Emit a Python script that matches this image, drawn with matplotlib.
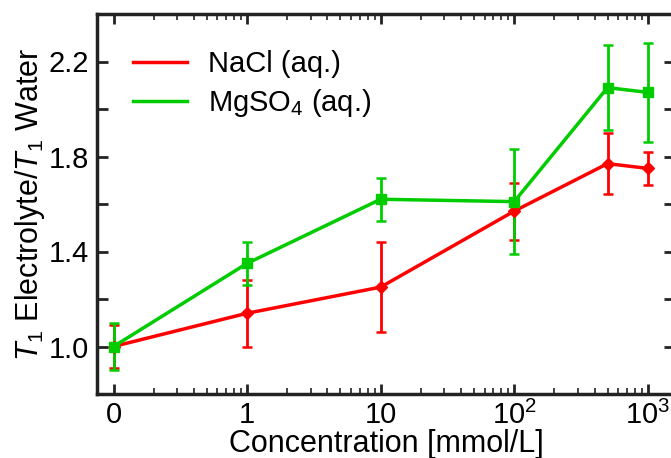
import numpy as np
import matplotlib
matplotlib.use("Agg")
import matplotlib.pyplot as plt
from matplotlib.ticker import FixedLocator, NullFormatter
from matplotlib.lines import Line2D

plt.rcParams["font.family"] = ["Liberation Sans", "DejaVu Sans"]
plt.rcParams["mathtext.fontset"] = "custom"
plt.rcParams["mathtext.rm"] = "Liberation Sans"
plt.rcParams["mathtext.it"] = "Liberation Sans:italic"

# concentrations in mmol/L (0 is drawn one decade below 1, as in the original log plot)
conc = np.array([0, 1, 10, 100, 500, 1000])
nacl = np.array([1.00, 1.14, 1.25, 1.57, 1.77, 1.75])
nacl_err = np.array([0.09, 0.14, 0.19, 0.12, 0.13, 0.07])
mgso4 = np.array([1.00, 1.35, 1.62, 1.61, 2.09, 2.07])
mgso4_err = np.array([0.10, 0.09, 0.09, 0.22, 0.18, 0.21])

tick_vals = [0.1, 1, 10, 100, 1000]
tick_labels = ["0", "1", "10", "10$^2$", "10$^3$"]

xpos = np.where(conc == 0, 0.1, conc)

fig = plt.figure(figsize=(6.71, 4.58), dpi=100)
ax = fig.add_axes([97 / 671, 64 / 458, 578 / 671, 380 / 458])

red = "#ff0000"
green = "#00cc00"
ax.errorbar(xpos, nacl, yerr=nacl_err, color=red, lw=2.5, marker="D", ms=6,
            capsize=3.5, elinewidth=2, capthick=1.8)
ax.errorbar(xpos, mgso4, yerr=mgso4_err, color=green, lw=2.5, marker="s", ms=6.5,
            capsize=3.5, elinewidth=2, capthick=1.8)

ax.set_xscale("log")
ax.set_xlim(0.0752, 1600)
ax.set_ylim(0.8, 2.4)

ax.xaxis.set_major_locator(FixedLocator(tick_vals))
ax.set_xticklabels(tick_labels)
minors = [m * 10.0 ** k for k in range(-1, 3) for m in range(2, 10)]
ax.xaxis.set_minor_locator(FixedLocator(minors))
ax.xaxis.set_minor_formatter(NullFormatter())

ax.set_yticks([1.0, 1.4, 1.8, 2.2])
ax.set_yticks(np.arange(0.8, 2.41, 0.2), minor=True)

ax.tick_params(which="both", direction="in", top=True, right=True,
               labelsize=21, width=2, color="#222222", pad=6)
ax.tick_params(axis="x", which="major", length=7, pad=5)
ax.tick_params(axis="x", which="minor", length=4, width=1.2)
ax.tick_params(axis="y", which="both", length=8)
for s in ax.spines.values():
    s.set_linewidth(2.5)
    s.set_color("#222222")

ax.set_xlabel("Concentration [mmol/L]", fontsize=22, labelpad=-1)
ax.set_ylabel("$T_1$ Electrolyte/$T_1$ Water", fontsize=22, labelpad=1)

handles = [Line2D([], [], color=red, lw=2.5), Line2D([], [], color=green, lw=2.5)]
ax.legend(handles, ["NaCl (aq.)", "MgSO$_4$ (aq.)"], loc="upper left",
          bbox_to_anchor=(0.0225, 0.966), frameon=False, fontsize=21,
          handlelength=1.85, handletextpad=0.7, borderaxespad=0.4,
          labelspacing=0.3)

fig.savefig("out.png", dpi=100)
